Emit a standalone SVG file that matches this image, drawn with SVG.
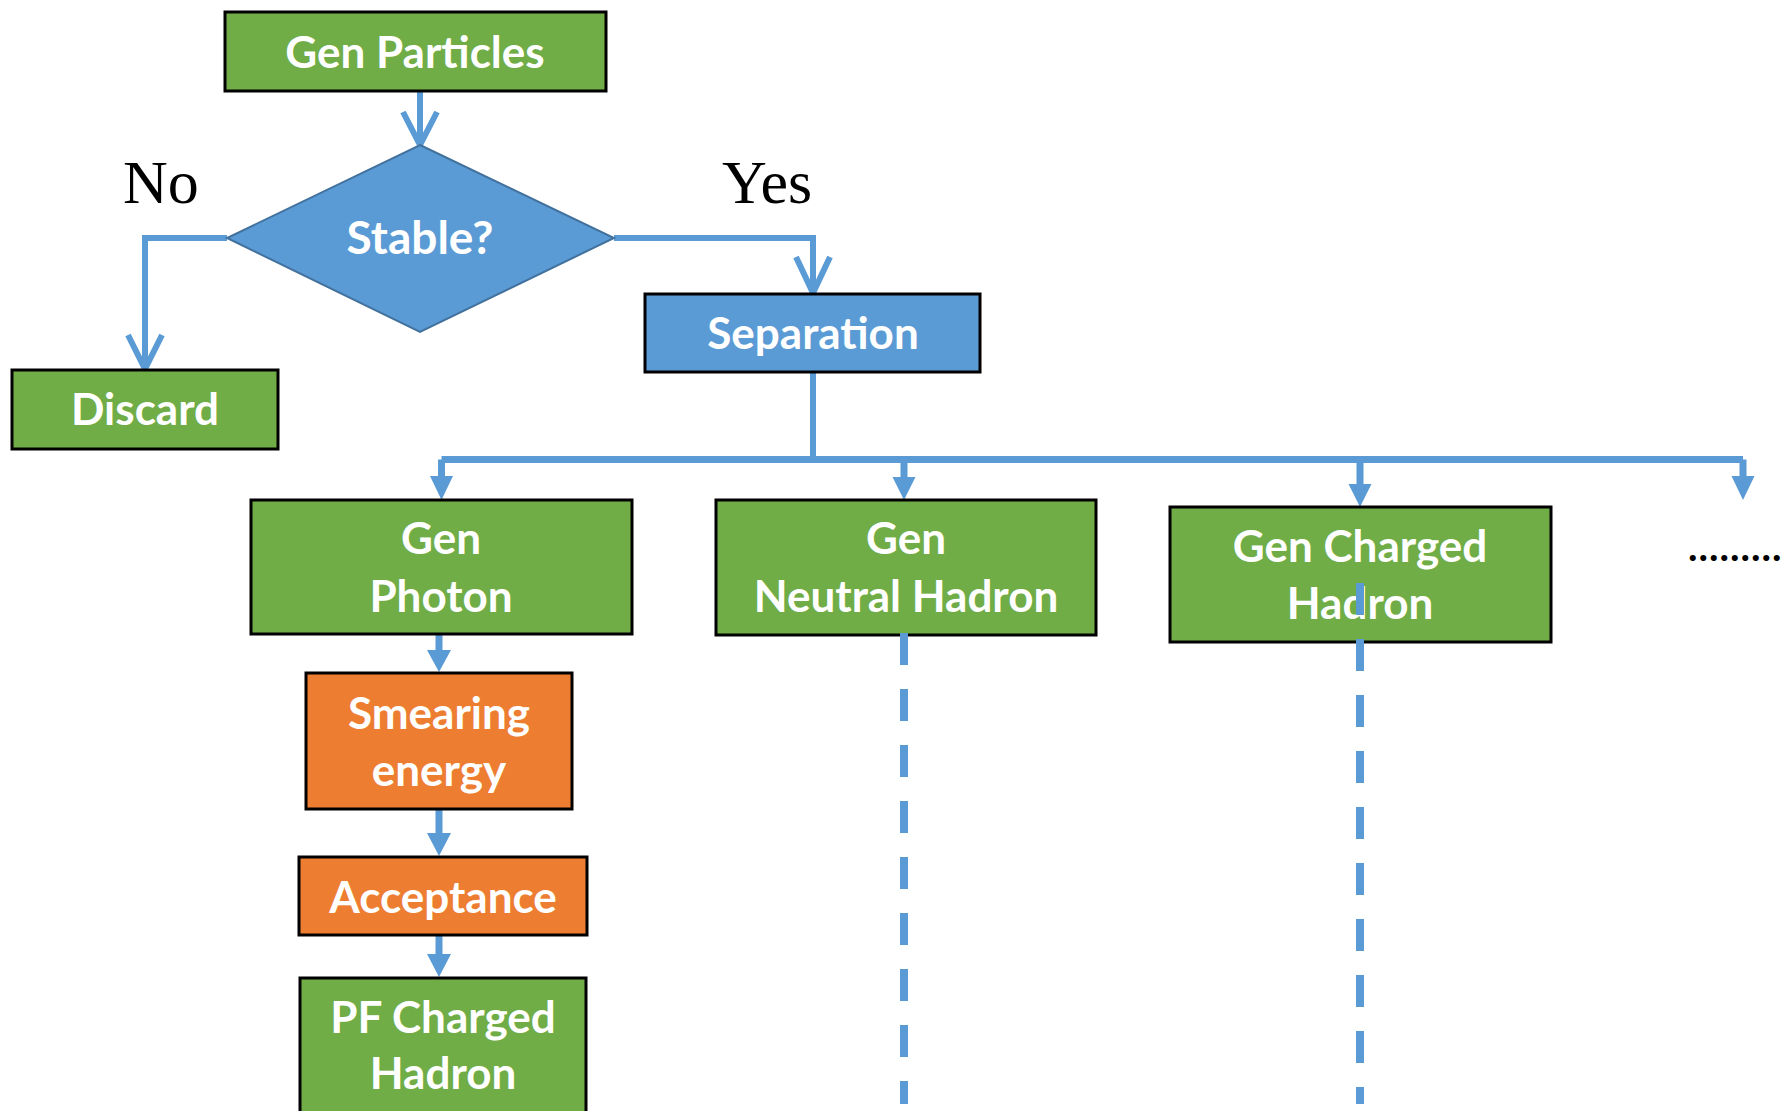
<svg xmlns="http://www.w3.org/2000/svg" width="1792" height="1111" viewBox="0 0 1792 1111">
<style>
.box{stroke:#000;stroke-width:3}
.g{fill:#70AD47}.o{fill:#ED7D31}.b{fill:#5B9BD5}
.t{font-family:Lato,"Open Sans",sans-serif;font-weight:bold;font-size:44px;fill:#fff;text-anchor:middle}
.s{font-family:"Liberation Serif","Times New Roman",serif;font-size:62px;fill:#000}
.c{stroke:#5B9BD5;stroke-width:6;fill:none}
.tri{fill:#5B9BD5}
.d{stroke:#5B9BD5;stroke-width:8;fill:none}
</style>
<rect width="1792" height="1111" fill="#fff"/>
<g id="connectors">
<path class="c" d="M420,91V145M403,112L420,145L437,112"/>
<path class="c" d="M227,238H145V369M128,335L145,369L162,335"/>
<path class="c" d="M614,238H813V293M796,257L813,293L830,257"/>
<path class="c" d="M813,372V460"/>
<path class="c" style="stroke-width:7" d="M441.5,459.5H1743"/>
<path class="c" style="stroke-width:7" d="M441.5,459.5V477M904,459.5V477M1360,459.5V485M1743,459.5V477"/>
<path class="tri" d="M430,476H453L441.5,500ZM892.5,477H915.5L904,500ZM1348.5,484H1371.5L1360,507ZM1731.5,476H1754.5L1743,500Z"/>
<path class="c" style="stroke-width:7" d="M439,634V651M439,809V834M439,935V955"/>
<path class="tri" d="M427,650H451L439,672ZM427,833H451L439,856ZM427,954H451L439,977Z"/>
</g>
<g id="gen-particles"><rect class="box g" x="225" y="12" width="381" height="79"/><text class="t" x="415" y="68">Gen Particles</text></g>
<g id="stable"><path d="M420,145L614,238L420,332L227,238Z" fill="#5B9BD5" stroke="#41719C" stroke-width="2"/><text class="t" x="420" y="254" style="font-size:46px">Stable?</text></g>
<g id="label-no"><text class="s" x="123" y="203">No</text></g>
<g id="label-yes"><text class="s" x="722" y="203">Yes</text></g>
<g id="discard"><rect class="box g" x="12" y="370" width="266" height="79"/><text class="t" x="145" y="425">Discard</text></g>
<g id="separation"><rect class="box b" x="645" y="294" width="335" height="78"/><text class="t" x="813" y="349">Separation</text></g>
<g id="gen-photon"><rect class="box g" x="251" y="500" width="381" height="134"/><text class="t" x="441" y="554">Gen</text><text class="t" x="441" y="612">Photon</text></g>
<g id="gen-neutral-hadron"><rect class="box g" x="716" y="500" width="380" height="135"/><text class="t" x="906" y="554">Gen</text><text class="t" x="906" y="612">Neutral Hadron</text></g>
<g id="gen-charged-hadron"><rect class="box g" x="1170" y="507" width="381" height="135"/><text class="t" x="1360" y="562">Gen Charged</text><text class="t" x="1360" y="619">Hadron</text></g>
<g id="more"><text x="1688" y="561" font-family="Lato,sans-serif" font-weight="bold" font-size="40" fill="#000" letter-spacing="1">.........</text></g>
<g id="smearing"><rect class="box o" x="306" y="673" width="266" height="136"/><text class="t" x="439" y="729">Smearing</text><text class="t" x="439" y="786">energy</text></g>
<g id="acceptance"><rect class="box o" x="299" y="857" width="288" height="78"/><text class="t" x="443" y="913">Acceptance</text></g>
<g id="pf-charged-hadron"><rect class="box g" x="300" y="978" width="286" height="150"/><text class="t" x="443" y="1033">PF Charged</text><text class="t" x="443" y="1089">Hadron</text></g>
<g id="dashes">
<path class="d" stroke-dasharray="32 24" d="M904,633V1104"/>
<path class="d" stroke-dasharray="32 24" d="M1360,583V1104"/>
</g>
</svg>
